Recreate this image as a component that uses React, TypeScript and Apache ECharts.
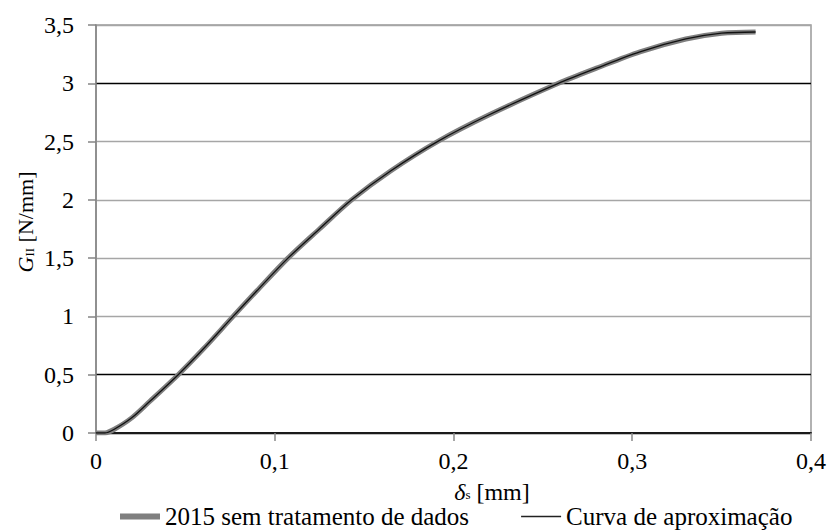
import React, { useEffect, useRef } from "react";
import * as echarts from "echarts";

const deltaS = [0, 0.005, 0.01, 0.02, 0.03, 0.046, 0.06, 0.0767, 0.09, 0.1074, 0.125, 0.143, 0.165, 0.191, 0.22, 0.2587, 0.28, 0.3043, 0.33, 0.35, 0.369];
const gRaw = [0, 0.0, 0.03, 0.13, 0.27, 0.5, 0.72, 1.0, 1.22, 1.5, 1.75, 2.0, 2.25, 2.5, 2.73, 3.0, 3.13, 3.27, 3.38, 3.43, 3.44];
const gApprox = [0, 0.0, 0.03, 0.13, 0.27, 0.5, 0.72, 1.0, 1.22, 1.5, 1.75, 2.0, 2.25, 2.5, 2.73, 3.0, 3.13, 3.27, 3.38, 3.43, 3.44];
const seriesNames = ["2015 sem tratamento de dados", "Curva de aproximação"];
const gridColors = ["#000000", "#000000", "#a6a6a6", "#a6a6a6", "#a6a6a6", "#a6a6a6", "#000000", "#a6a6a6"];

const FONT = "Liberation Serif";
const fmt = (v: number) => String(v).replace(".", ",");

export default function App() {
  const ref = useRef<HTMLDivElement>(null);
  useEffect(() => {
    if (!ref.current) return;
    const chart = echarts.init(ref.current, undefined, { renderer: "svg" });
    chart.setOption({
      animation: false,
      backgroundColor: "#ffffff",
      textStyle: { fontFamily: FONT },
      grid: { left: 96, right: 20, top: 25, bottom: 98, show: true, borderColor: "#999999", borderWidth: 1.5 },
      xAxis: {
        type: "value",
        min: 0,
        max: 0.4,
        interval: 0.1,
        axisLine: { show: true, onZero: false, lineStyle: { color: "#1a1a1a", width: 2 } },
        axisTick: { show: true, length: 8, lineStyle: { color: "#888888", width: 1.5 } },
        axisLabel: { color: "#000", fontFamily: FONT, fontSize: 24, margin: 16, formatter: fmt },
        splitLine: { show: false },
      },
      yAxis: {
        type: "value",
        min: 0,
        max: 3.5,
        interval: 0.5,
        axisLine: { show: true, lineStyle: { color: "#858585", width: 1.5 } },
        axisTick: { show: true, length: 8, lineStyle: { color: "#858585", width: 1.5 } },
        axisLabel: { color: "#000", fontFamily: FONT, fontSize: 24, margin: 22, formatter: fmt },
        splitLine: { show: true, lineStyle: { color: gridColors, width: 1.4 } },
      },
      legend: {
        left: 120,
        top: 504,
        itemWidth: 40,
        itemHeight: 14,
        itemGap: 52,
        padding: 0,
        textStyle: { fontFamily: FONT, fontSize: 25, color: "#000", lineHeight: 24 },
        data: [
          { name: seriesNames[0], icon: "path://M0,0 H40 V6 H0 Z", itemStyle: { color: "#7f7f7f" } },
          { name: seriesNames[1], icon: "path://M0,0 H40 V1.5 H0 Z", itemStyle: { color: "#222222" } },
        ],
      },
      graphic: [
        {
          type: "text",
          x: 25,
          y: 222,
          rotation: Math.PI / 2,
          style: {
            text: "{g|G}{sub|II}{t| [N/mm]}",
            align: "center",
            verticalAlign: "middle",
            fill: "#000",
            fontFamily: FONT,
            fontSize: 22,
            rich: {
              g: { fontFamily: FONT, fontSize: 22, fontStyle: "italic", fill: "#000", lineHeight: 22 },
              sub: { fontFamily: FONT, fontSize: 13, fill: "#000", lineHeight: 22, verticalAlign: "bottom" },
              t: { fontFamily: FONT, fontSize: 22, fill: "#000", lineHeight: 22 },
            },
          },
        },
        {
          type: "text",
          x: 492,
          y: 492,
          style: {
            text: "{d|δ}{sub|s}{t| [mm]}",
            align: "center",
            verticalAlign: "middle",
            fill: "#000",
            fontFamily: FONT,
            fontSize: 24,
            rich: {
              d: { fontFamily: FONT, fontSize: 24, fontStyle: "italic", fill: "#000", lineHeight: 18 },
              sub: { fontFamily: FONT, fontSize: 13, fill: "#000", lineHeight: 18, verticalAlign: "bottom" },
              t: { fontFamily: FONT, fontSize: 24, fill: "#000", lineHeight: 18 },
            },
          },
        },
      ],
      series: [
        {
          name: seriesNames[0],
          type: "line",
          smooth: 0.3,
          showSymbol: false,
          symbol: "none",
          data: deltaS.map((x, i) => [x, gRaw[i]]),
          lineStyle: { color: "#7f7f7f", width: 5 },
          itemStyle: { color: "#7f7f7f" },
        },
        {
          name: seriesNames[1],
          type: "line",
          smooth: 0.3,
          showSymbol: false,
          symbol: "none",
          data: deltaS.map((x, i) => [x, gApprox[i]]),
          lineStyle: { color: "#111111", width: 1.3 },
          itemStyle: { color: "#111111" },
        },
      ],
    });
    return () => chart.dispose();
  }, []);
  return <div ref={ref} style={{ width: 831, height: 531, position: "fixed", left: 0, top: 0 }} />;
}
